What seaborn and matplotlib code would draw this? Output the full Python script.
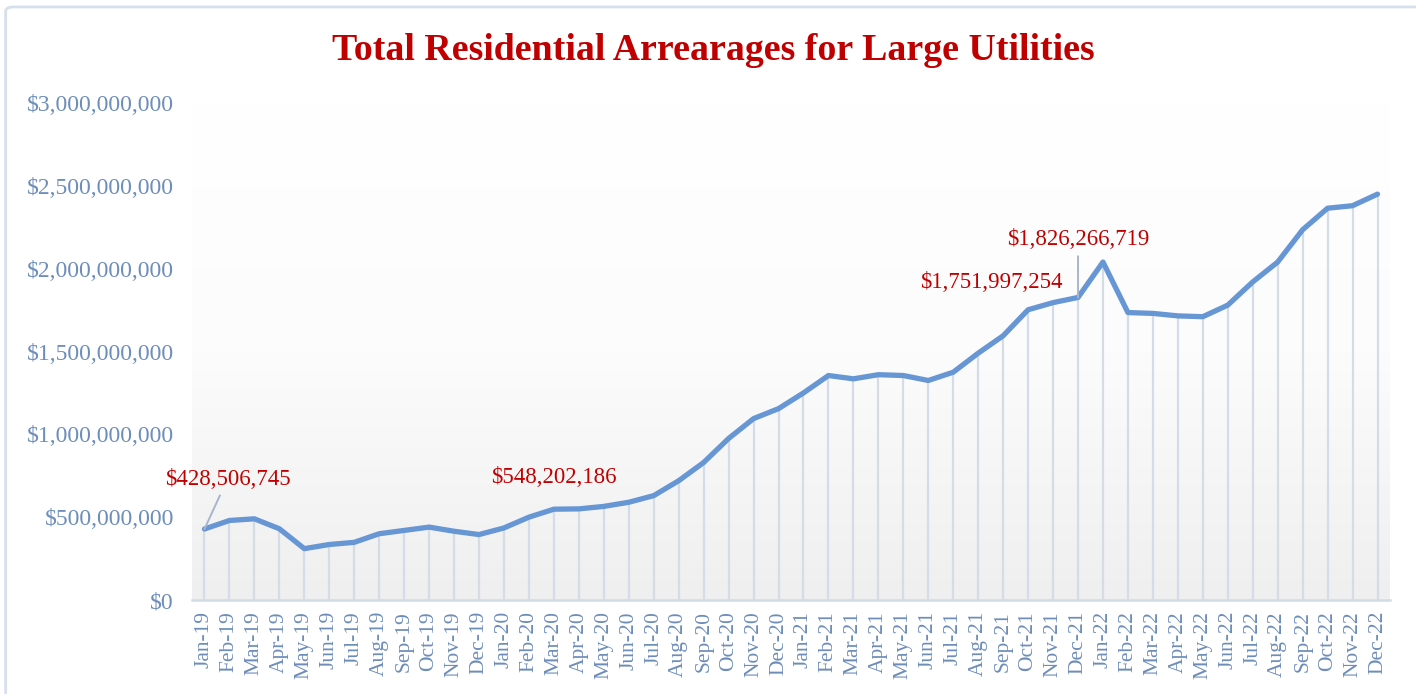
import numpy as np
import pandas as pd
import matplotlib
matplotlib.use("Agg")
import matplotlib.pyplot as plt
from matplotlib.patches import FancyBboxPatch
import seaborn as sns

# ---------------- Data ----------------
months = [
    "Jan-19", "Feb-19", "Mar-19", "Apr-19", "May-19", "Jun-19",
    "Jul-19", "Aug-19", "Sep-19", "Oct-19", "Nov-19", "Dec-19",
    "Jan-20", "Feb-20", "Mar-20", "Apr-20", "May-20", "Jun-20",
    "Jul-20", "Aug-20", "Sep-20", "Oct-20", "Nov-20", "Dec-20",
    "Jan-21", "Feb-21", "Mar-21", "Apr-21", "May-21", "Jun-21",
    "Jul-21", "Aug-21", "Sep-21", "Oct-21", "Nov-21", "Dec-21",
    "Jan-22", "Feb-22", "Mar-22", "Apr-22", "May-22", "Jun-22",
    "Jul-22", "Aug-22", "Sep-22", "Oct-22", "Nov-22", "Dec-22",
]
# arrears in billions of dollars
arrears_bn = [
    0.4285, 0.480, 0.490, 0.430, 0.310, 0.335,
    0.348, 0.400, 0.420, 0.440, 0.415, 0.395,
    0.435, 0.500, 0.5482, 0.550, 0.565, 0.590,
    0.630, 0.720, 0.830, 0.975, 1.095, 1.155,
    1.250, 1.355, 1.335, 1.360, 1.355, 1.325,
    1.375, 1.490, 1.595, 1.752, 1.795, 1.8263,
    2.040, 1.735, 1.730, 1.715, 1.710, 1.780,
    1.920, 2.040, 2.235, 2.365, 2.380, 2.450,
]
callouts = {0: "$428,506,745", 14: "$548,202,186",
            33: "$1,751,997,254", 35: "$1,826,266,719"}

df = pd.DataFrame({"month": months, "value": np.array(arrears_bn) * 1e9})
df["pos"] = np.arange(len(df))

# ---------------- Style ----------------
sns.set_style("white")
plt.rcParams["font.family"] = ["Liberation Serif", "DejaVu Serif"]

tick_col = "#6d8dba"
red = "#c00000"
line_col = "#6796d5"
drop_col = "#d5dce8"
axis_col = "#d3dbe7"

fig = plt.figure(figsize=(14.16, 6.94), dpi=100)
ax = fig.add_axes([192 / 1416, 1 - 600 / 694, (1390 - 192) / 1416, (600 - 103) / 694])

# outer chart-area border
fig.patches.append(FancyBboxPatch((0.004, -0.05), 1.1, 1.04, transform=fig.transFigure,
                                  boxstyle="round,pad=0,rounding_size=0.006",
                                  fc="none", ec="#d6e0ec", lw=2))

# gradient plot area
grad = np.linspace(0, 1, 256).reshape(-1, 1)
cmap = matplotlib.colors.LinearSegmentedColormap.from_list("g", ["#ffffff", "#fcfcfc", "#efefef"])
ax.imshow(grad, extent=(-0.5, 47.5, 0, 3e9), aspect="auto", cmap=cmap, zorder=0, origin="upper")

# drop lines
ax.vlines(df["pos"], 0, df["value"], color=drop_col, lw=1.6, zorder=1)

sns.lineplot(data=df, x="pos", y="value", ax=ax, color=line_col, lw=3.8,
             sort=False, zorder=3, solid_capstyle="round", solid_joinstyle="round")

ax.set_xlim(-0.5, 47.5)
ax.set_ylim(0, 3e9)
ax.set_xlabel("")
ax.set_ylabel("")

# y axis
ax.set_yticks(np.arange(0, 3.01e9, 0.5e9))
ax.set_yticklabels([f"${v:,.0f}" for v in np.arange(0, 3.01e9, 0.5e9)])
ax.tick_params(axis="y", length=0, pad=13, labelsize=17, labelcolor=tick_col)

# x axis: ticks between categories, labels at centers
ax.set_xticks(np.arange(-0.5, 48, 1))
ax.set_xticklabels([])
ax.set_xticks(df["pos"], minor=True)
ax.set_xticklabels(months, minor=True, rotation=90)
ax.tick_params(axis="x", which="major", length=6, width=1.5, color=axis_col, direction="out")
ax.tick_params(axis="x", which="minor", length=0, pad=8, labelsize=15.5, labelcolor=tick_col)

for s in ["top", "right", "left"]:
    ax.spines[s].set_visible(False)
ax.spines["bottom"].set_color(axis_col)
ax.spines["bottom"].set_linewidth(1.8)

# ---------------- Callouts ----------------
lead = dict(arrowstyle="-", color="#a7b6cc", lw=1.4, shrinkA=2, shrinkB=0)
ax.annotate(callouts[0], xy=(0, df["value"][0]), xytext=(0.92, 0.73e9),
            ha="center", va="center", color=red, fontsize=16.5, arrowprops=lead, zorder=5)
ax.text(14, 0.742e9, callouts[14], ha="center", va="center", color=red, fontsize=16.5)
ax.text(34.4, 1.915e9, callouts[33], ha="right", va="center", color=red, fontsize=16.5)
ax.annotate(callouts[35], xy=(35, df["value"][35]), xytext=(35, 2.175e9),
            ha="center", va="center", color=red, fontsize=16.5, arrowprops=lead, zorder=5)

fig.suptitle("Total Residential Arrearages for Large Utilities", x=0.5035, y=1 - 50 / 694,
             va="center", fontsize=27.3, fontweight="bold", color=red)

fig.savefig("out.png", dpi=100, facecolor="white")
